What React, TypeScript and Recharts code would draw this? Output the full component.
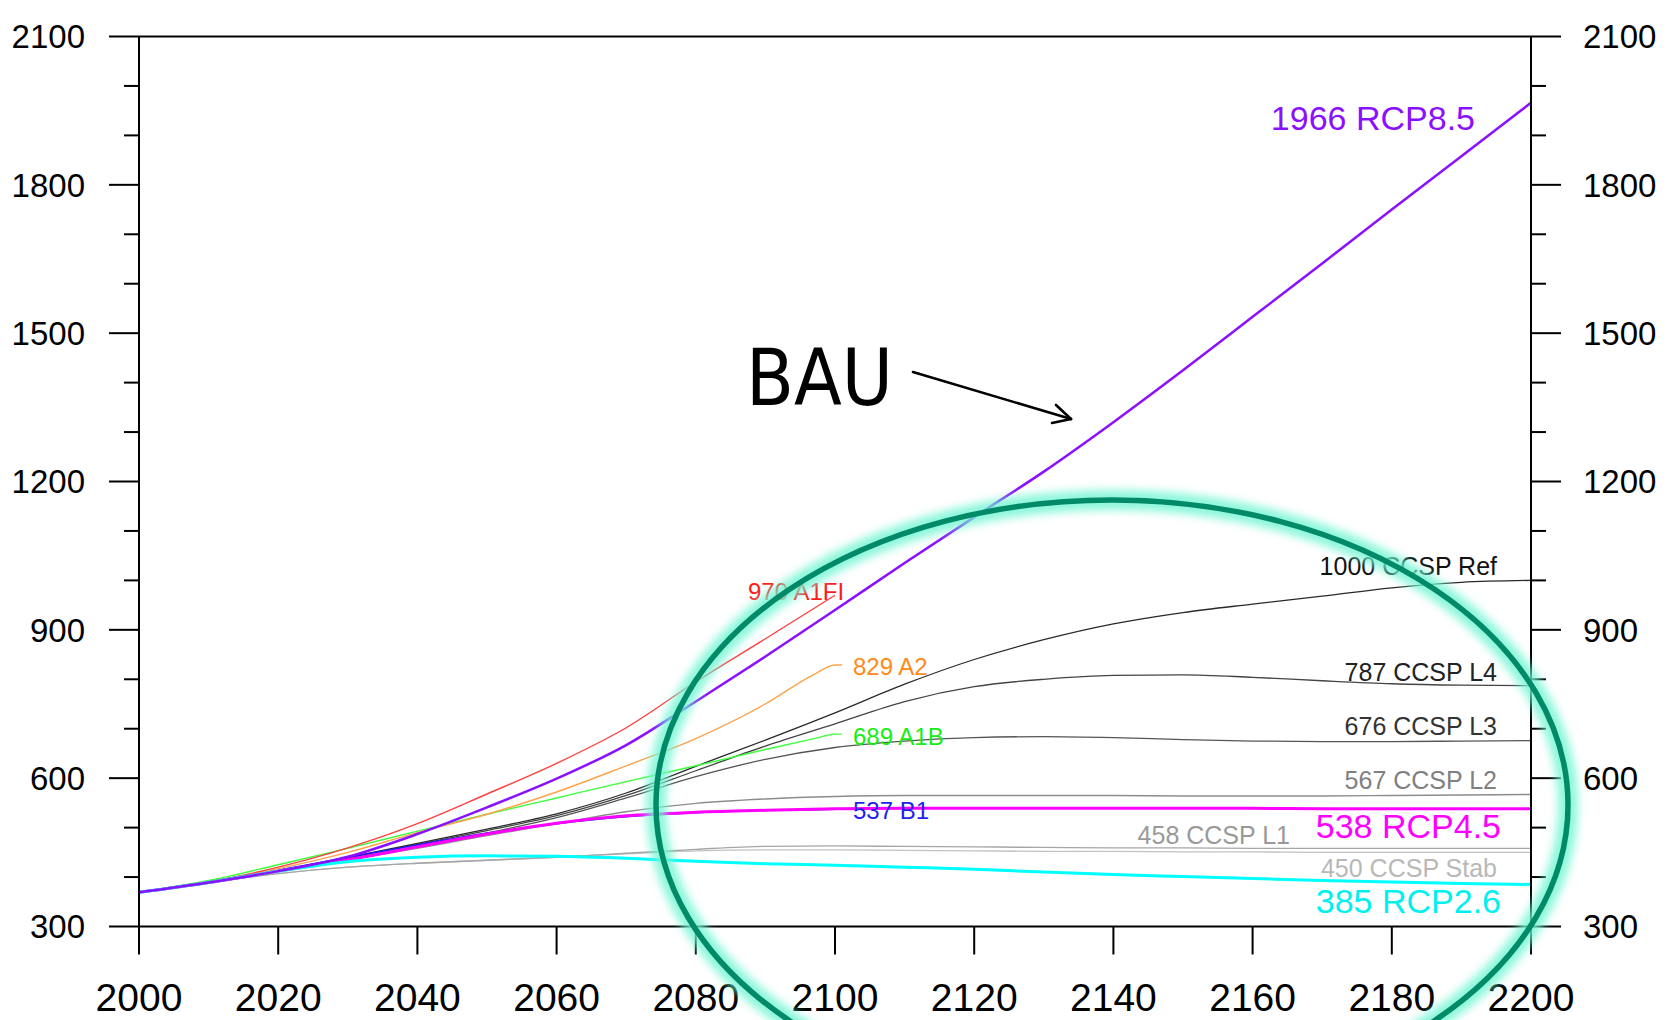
import { LineChart, Line, XAxis, YAxis, LabelList } from "recharts";

// CO2 concentration (ppm) scenarios, sampled every 10 years
const years = [2000, 2010, 2020, 2030, 2040, 2050, 2060, 2070, 2080, 2090, 2100, 2110, 2120, 2130, 2140, 2150, 2160, 2170, 2180, 2190, 2200];
const sresYears = [2000, 2010, 2020, 2030, 2040, 2050, 2060, 2070, 2080, 2090, 2100];
const sresStubYears = [2000, 2010, 2020, 2030, 2040, 2050, 2060, 2070, 2080, 2090, 2097, 2100, 2101];

const rcp85 = [369, 389, 412, 441, 487, 541, 599, 667, 755, 846, 940, 1035, 1128, 1220, 1320, 1425, 1533, 1641, 1750, 1858, 1966];
const rcp45 = [369, 389, 412, 435, 461, 487, 509, 524, 531, 535, 538, 539, 539, 539, 539, 539, 539, 538, 538, 538, 538];
const rcp26 = [369, 389, 412, 431, 440, 443, 442, 438, 432, 427, 424, 420, 416, 410, 405, 401, 397, 393, 390, 387, 385];

const a1fi = [369, 390, 420, 459, 508, 568, 630, 702, 795, 882, 970];
const a2 = [369, 390, 417, 450, 490, 527, 572, 625, 680, 750, 810, 829, 829];
const a1b = [369, 393, 425, 458, 493, 527, 560, 593, 625, 658, 680, 689, 689];
const b1 = [369, 391, 414, 440, 465, 489, 508, 522, 530, 535, 536, 537, 537];

const ccspRef = [369, 390, 413, 440, 468, 497, 528, 570, 624, 677, 732, 790, 840, 880, 912, 935, 952, 968, 985, 996, 1000];
const ccspL4 = [369, 390, 413, 439, 466, 494, 524, 565, 615, 665, 710, 755, 785, 800, 808, 809, 804, 797, 791, 788, 787];
const ccspL3 = [369, 389, 412, 437, 462, 489, 520, 560, 603, 638, 662, 675, 682, 684, 682, 678, 675, 674, 674, 675, 676];
const ccspL2 = [369, 389, 411, 435, 458, 484, 508, 532, 549, 558, 563, 565, 565, 565, 565, 564, 564, 564, 565, 566, 567];
const ccspL1 = [369, 389, 407, 420, 428, 434, 440, 448, 456, 462, 463, 462, 461, 460, 459, 459, 458, 458, 458, 458, 458];
const ccspStab = [369, 389, 407, 420, 428, 434, 440, 447, 453, 455, 455, 454, 453, 452, 452, 451, 451, 450, 450, 450, 450];

const xTicks = [2000, 2020, 2040, 2060, 2080, 2100, 2120, 2140, 2160, 2180, 2200];
const yTicks = [300, 400, 500, 600, 700, 800, 900, 1000, 1100, 1200, 1300, 1400, 1500, 1600, 1700, 1800, 1900, 2000, 2100];

const FONT = "'Liberation Sans', Arial, Helvetica, sans-serif";

const pts = (xs: number[], vs: number[]) => xs.map((year, i) => ({ year, co2: vs[i] }));

type LabelSpec = {
  text: string;
  color: string;
  size: number;
  anchor: "start" | "end";
  dx: number;
  dy: number;
};

const endLabel = (spec: LabelSpec, at: number) => (props: any) => {
  if (props.index !== at) return null;
  const vb = props.viewBox ?? {};
  const x = (vb.x ?? props.x) as number;
  const y = (vb.y ?? props.y) as number;
  return (
    <text
      x={x + spec.dx}
      y={y + spec.dy}
      dy="0.355em"
      textAnchor={spec.anchor}
      fill={spec.color}
      fontSize={spec.size}
      fontFamily={FONT}
    >
      {spec.text}
    </text>
  );
};

const YTick = (props: any) => {
  const { x, y, payload, side } = props;
  const major = payload.value % 300 === 0;
  const dir = side === "left" ? -1 : 1;
  return (
    <g>
      <line x1={x} x2={x + dir * (major ? 30 : 15)} y1={y} y2={y} stroke="#000" strokeWidth={2} />
      {major && (
        <text
          x={x + dir * (side === "left" ? 54 : 52)}
          y={y}
          dy="0.355em"
          textAnchor={side === "left" ? "end" : "start"}
          fill="#000"
          fontSize={33}
          fontFamily={FONT}
        >
          {payload.value}
        </text>
      )}
    </g>
  );
};

const series = [
  { key: "stab", xs: years, vs: ccspStab, stroke: "#c2c2c2", w: 1.4, label: { text: "450 CCSP Stab", color: "#b8b8b8", size: 25, anchor: "end", dx: -34, dy: 16 } },
  { key: "l1", xs: years, vs: ccspL1, stroke: "#a6a6a6", w: 1.4, label: { text: "458 CCSP L1", color: "#999999", size: 25, anchor: "end", dx: -241, dy: -13 } },
  { key: "l2", xs: years, vs: ccspL2, stroke: "#8c8c8c", w: 1.4, label: { text: "567 CCSP L2", color: "#808080", size: 25, anchor: "end", dx: -34, dy: -14.5 } },
  { key: "l3", xs: years, vs: ccspL3, stroke: "#555555", w: 1.3, label: { text: "676 CCSP L3", color: "#333333", size: 25, anchor: "end", dx: -34, dy: -14 } },
  { key: "l4", xs: years, vs: ccspL4, stroke: "#444444", w: 1.3, label: { text: "787 CCSP L4", color: "#222222", size: 25, anchor: "end", dx: -34, dy: -14 } },
  { key: "ref", xs: years, vs: ccspRef, stroke: "#2a2a2a", w: 1.3, label: { text: "1000 CCSP Ref", color: "#111111", size: 25, anchor: "end", dx: -34, dy: -14 } },
  { key: "b1", xs: sresStubYears, vs: b1, stroke: "#1a1aff", w: 1.5, label: { text: "537 B1", color: "#1f1fee", size: 24, anchor: "start", dx: 11, dy: 1 } },
  { key: "a1b", xs: sresStubYears, vs: a1b, stroke: "#3cff3c", w: 1.4, label: { text: "689 A1B", color: "#14ee14", size: 24, anchor: "start", dx: 11, dy: 2.5 } },
  { key: "a2", xs: sresStubYears, vs: a2, stroke: "#ffa24a", w: 1.4, label: { text: "829 A2", color: "#ff8a1a", size: 24, anchor: "start", dx: 11, dy: 2 } },
  { key: "a1fi", xs: sresYears, vs: a1fi, stroke: "#ff4040", w: 1.4, label: { text: "970 A1FI", color: "#ff1a1a", size: 24, anchor: "start", dx: -87, dy: -3.5 } },
  { key: "rcp45", xs: years, vs: rcp45, stroke: "#ff00ff", w: 3, label: { text: "538 RCP4.5", color: "#ff00ff", size: 34, anchor: "end", dx: -30, dy: 17 } },
  { key: "rcp26", xs: years, vs: rcp26, stroke: "#00ffff", w: 3, label: { text: "385 RCP2.6", color: "#00f0f0", size: 34, anchor: "end", dx: -30, dy: 16 } },
  { key: "rcp85", xs: years, vs: rcp85, stroke: "#8b10ff", w: 2.5, label: { text: "1966 RCP8.5", color: "#8b10ff", size: 34, anchor: "end", dx: -56, dy: 15 } },
];

export default function App() {
  const axisLine = { stroke: "#000", strokeWidth: 2 };
  return (
    <div style={{ position: "fixed", left: 0, top: 0, width: 1670, height: 1020, background: "#fff" }}>
      <LineChart width={1670} height={1020} margin={{ top: 0, right: 0, bottom: 0, left: 0 }}>
        <XAxis
          xAxisId="b"
          dataKey="year"
          type="number"
          domain={[2000, 2200]}
          allowDataOverflow
          ticks={xTicks}
          interval={0}
          height={93.5}
          tickSize={28}
          tickMargin={29}
          axisLine={axisLine}
          tickLine={axisLine}
          tick={{ fill: "#000", fontSize: 39, fontFamily: FONT }}
        />
        <XAxis
          xAxisId="t"
          orientation="top"
          dataKey="year"
          type="number"
          domain={[2000, 2200]}
          allowDataOverflow
          ticks={xTicks}
          interval={0}
          height={36.5}
          tickSize={28}
          axisLine={axisLine}
          tickLine={axisLine}
          tick={false}
        />
        <YAxis
          yAxisId="l"
          type="number"
          domain={[300, 2100]}
          allowDataOverflow
          ticks={yTicks}
          interval={0}
          width={139}
          tickSize={0}
          tickMargin={0}
          tickLine={false}
          axisLine={axisLine}
          tick={(p: any) => <YTick {...p} side="left" />}
        />
        <YAxis
          yAxisId="r"
          orientation="right"
          type="number"
          domain={[300, 2100]}
          allowDataOverflow
          ticks={yTicks}
          interval={0}
          width={139}
          tickSize={0}
          tickMargin={0}
          tickLine={false}
          axisLine={axisLine}
          tick={(p: any) => <YTick {...p} side="right" />}
        />
        {series.map((s) => (
          <Line
            key={s.key}
            xAxisId="b"
            yAxisId="l"
            data={pts(s.xs, s.vs)}
            dataKey="co2"
            type="monotone"
            stroke={s.stroke}
            strokeWidth={s.w}
            dot={false}
            activeDot={false}
            isAnimationActive={false}
          >
            <LabelList dataKey="co2" content={endLabel(s.label as LabelSpec, s.xs.length - 1)} />
          </Line>
        ))}
      </LineChart>
      {/* hand-drawn annotations on top */}
      <svg width={1670} height={1020} style={{ position: "absolute", left: 0, top: 0, pointerEvents: "none" }}>
        <defs>
          <filter id="glow" x="-10%" y="-10%" width="120%" height="120%">
            <feGaussianBlur stdDeviation="4" />
          </filter>
        </defs>
        <text
          x={746}
          y={405}
          fontSize={78}
          textLength={147}
          lengthAdjust="spacingAndGlyphs"
          fontFamily="'DejaVu Sans', sans-serif"
          fill="#000"
        >
          BAU
        </text>
        <g stroke="#000" strokeWidth={2.6} strokeLinecap="round" fill="none">
          <line x1={913} y1={372} x2={1071} y2={419} />
          <line x1={1071} y1={419} x2={1056} y2={405} />
          <line x1={1071} y1={419} x2={1052} y2={423} />
        </g>
        <ellipse cx={1112} cy={805} rx={456} ry={305} fill="none" stroke="#6ff5d2" strokeWidth={20} opacity={0.8} filter="url(#glow)" />
        <ellipse cx={1112} cy={805} rx={456} ry={305} fill="none" stroke="#008a68" strokeWidth={5.5} />
      </svg>
    </div>
  );
}
